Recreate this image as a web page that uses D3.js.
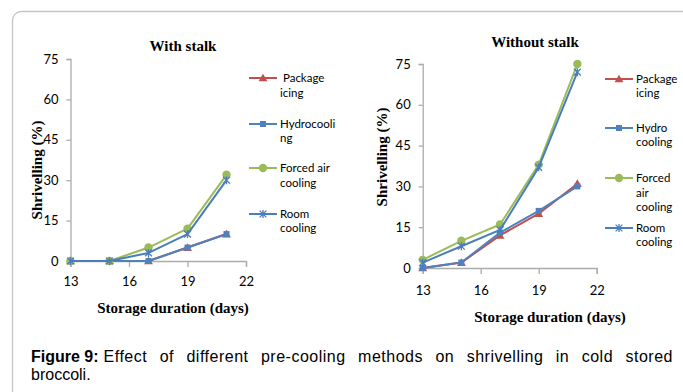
<!DOCTYPE html>
<html>
<head>
<meta charset="utf-8">
<script src="https://cdn.jsdelivr.net/npm/d3@7"></script>
<style>
  html, body { margin: 0; padding: 0; background: #fff; }
  svg { display: block; }
</style>
</head>
<body>
<svg id="fig" width="683" height="392"></svg>
<script>
// Storage days on the x axis
const days = [13, 15, 17, 19, 21];
const xTicks = [13, 16, 19, 22];
const yTicks = [0, 15, 30, 45, 60, 75];

// Shrivelling (%) with stalk
const withPackage = [0, 0, 0, 5, 10];
const withHydro   = [0, 0, 0, 5, 10];
const withForced  = [0, 0, 5, 12, 32];
const withRoom    = [0, 0, 3, 10, 30];

// Shrivelling (%) without stalk
const withoutPackage = [0, 2, 12, 20, 31];
const withoutHydro   = [0, 2, 13, 21, 30];
const withoutForced  = [3, 10, 16, 38, 75];
const withoutRoom    = [2, 8, 14, 37, 72];

const seriesStyle = [
  { color: "#C0504D", marker: "triangle" },
  { color: "#4F81BD", marker: "square" },
  { color: "#9BBB59", marker: "circle" },
  { color: "#4A7EBB", marker: "star" }
];

const leftLabels  = [[" Package", "icing"], ["Hydrocooli", "ng"], ["Forced air", "cooling"], ["Room", "cooling"]];
const rightLabels = [["Package", "icing"], ["Hydro", "cooling"], ["Forced", "air", "cooling"], ["Room", "cooling"]];

const captionLead = "Figure 9:";
const captionLine1 = "Effect of different pre-cooling methods on shrivelling in cold stored";
const captionLine2 = "broccoli.";

const svg = d3.select("#fig");

// outer rounded frame
svg.append("rect")
  .attr("x", 12.5).attr("y", 11.5)
  .attr("width", 720).attr("height", 420)
  .attr("rx", 9)
  .attr("fill", "none").attr("stroke", "#c4c4c4").attr("stroke-width", 1.3);

const tickFont = "Lato, 'Open Sans', sans-serif";
const serif = "'Liberation Serif', 'Times New Roman', serif";
const axisColor = "#ABABAB";

function drawMarker(g, type, x, y, color) {
  if (type === "triangle") {
    g.append("path")
      .attr("d", d3.symbol(d3.symbolTriangle, 34)())
      .attr("transform", `translate(${x},${y + 0.8})`)
      .attr("fill", color);
  } else if (type === "square") {
    g.append("rect")
      .attr("x", x - 3).attr("y", y - 3).attr("width", 6).attr("height", 6)
      .attr("fill", color);
  } else if (type === "circle") {
    g.append("circle").attr("cx", x).attr("cy", y).attr("r", 4.2).attr("fill", color);
  } else {
    const s = 3.4;
    g.append("path")
      .attr("d", `M${x - s},${y - s}L${x + s},${y + s}M${x - s},${y + s}L${x + s},${y - s}M${x},${y - s - 0.6}L${x},${y + s + 0.6}`)
      .attr("stroke", color).attr("stroke-width", 1.3).attr("fill", "none");
  }
}

function panel(cfg) {
  const g = svg.append("g");
  const x = d3.scaleLinear().domain([13, 22]).range(cfg.xRange);
  const y = d3.scaleLinear().domain([0, 75]).range(cfg.yRange);

  // y axis
  const ya = g.append("g")
    .attr("transform", `translate(${cfg.xRange[0]},0)`)
    .call(d3.axisLeft(y).tickValues(yTicks).tickSize(4).tickPadding(8));
  ya.select(".domain").attr("stroke", axisColor).attr("stroke-width", 1.3);
  ya.selectAll(".tick line").attr("stroke", axisColor).attr("stroke-width", 1.3);
  ya.selectAll(".tick text")
    .attr("font-family", tickFont).attr("font-size", 13).attr("fill", "#000");

  // x axis
  const xa = g.append("g")
    .attr("transform", `translate(0,${cfg.yRange[0]})`)
    .call(d3.axisBottom(x).tickValues(xTicks).tickSize(6).tickPadding(cfg.xPad));
  xa.select(".domain").attr("stroke", axisColor).attr("stroke-width", 1.3);
  xa.selectAll(".tick line").attr("stroke", axisColor).attr("stroke-width", 1.3);
  xa.selectAll(".tick text")
    .attr("font-family", tickFont).attr("font-size", 13).attr("fill", "#000");

  // titles
  g.append("text")
    .attr("x", cfg.titleX).attr("y", cfg.titleY)
    .attr("text-anchor", "middle")
    .attr("font-family", serif).attr("font-weight", "bold").attr("font-size", 15)
    .text(cfg.title);
  g.append("text")
    .attr("x", cfg.xTitleX).attr("y", cfg.xTitleY)
    .attr("text-anchor", "middle")
    .attr("font-family", serif).attr("font-weight", "bold").attr("font-size", 15)
    .text("Storage duration (days)");
  g.append("text")
    .attr("transform", `translate(${cfg.yTitleX},${cfg.yTitleY}) rotate(-90)`)
    .attr("text-anchor", "middle")
    .attr("font-family", serif).attr("font-weight", "bold").attr("font-size", 15)
    .text("Shrivelling (%)");

  // series
  const line = d3.line().x((d, i) => x(days[i])).y(d => y(d));
  cfg.series.forEach((vals, si) => {
    const st = seriesStyle[si];
    g.append("path")
      .datum(vals)
      .attr("d", line)
      .attr("fill", "none")
      .attr("stroke", st.color)
      .attr("stroke-width", 2)
      .attr("stroke-linejoin", "round");
    vals.forEach((v, i) => drawMarker(g, st.marker, x(days[i]), y(v), st.color));
  });

  // legend
  cfg.labels.forEach((lines, si) => {
    const st = seriesStyle[si];
    const ly = cfg.legendY[si];
    g.append("line")
      .attr("x1", cfg.legendX[0]).attr("x2", cfg.legendX[1])
      .attr("y1", ly).attr("y2", ly)
      .attr("stroke", st.color).attr("stroke-width", 2);
    drawMarker(g, st.marker, (cfg.legendX[0] + cfg.legendX[1]) / 2, ly, st.color);
    lines.forEach((t, li) => {
      g.append("text")
        .attr("x", cfg.legendX[1] + 3)
        .attr("y", ly + 4 + li * cfg.legendStep[si])
        .attr("font-family", tickFont).attr("font-size", 11.5)
        .attr("fill", "#000")
        .attr("xml:space", "preserve")
        .style("white-space", "pre")
        .text(t);
    });
  });
}

panel({
  xRange: [70.5, 246], yRange: [261, 59], xPad: 10,
  title: "With stalk", titleX: 183, titleY: 51,
  xTitleX: 173, xTitleY: 313,
  yTitleX: 42, yTitleY: 170,
  series: [withPackage, withHydro, withForced, withRoom],
  labels: leftLabels,
  legendX: [249, 277],
  legendY: [78, 124, 168, 214],
  legendStep: [15, 14, 15, 14]
});

panel({
  xRange: [422.7, 596.7], yRange: [268, 64], xPad: 12,
  title: "Without stalk", titleX: 535, titleY: 47,
  xTitleX: 550, xTitleY: 322,
  yTitleX: 387, yTitleY: 157,
  series: [withoutPackage, withoutHydro, withoutForced, withoutRoom],
  labels: rightLabels,
  legendX: [605, 633],
  legendY: [79, 128, 178, 228],
  legendStep: [14, 14, 14.5, 14]
});

// caption: bold lead-in, then the first line justified by widening word gaps
const capFont = "'Liberation Sans', Arial, sans-serif";
const capLeft = 31, capRight = 673, capSize = 16;
const lead = svg.append("text")
  .attr("x", capLeft).attr("y", 362)
  .attr("font-family", capFont).attr("font-size", capSize).attr("font-weight", "bold")
  .attr("fill", "#000")
  .text(captionLead);
const restX = capLeft + lead.node().getComputedTextLength() + 5;
const rest = svg.append("text")
  .attr("x", restX).attr("y", 362)
  .attr("font-family", capFont).attr("font-size", capSize).attr("fill", "#000")
  .attr("letter-spacing", 0.5)
  .text(captionLine1);
const spaces = captionLine1.split(" ").length - 1;
const extra = (capRight - restX - rest.node().getComputedTextLength()) / spaces;
if (extra > 0) rest.attr("word-spacing", extra);
else rest.attr("textLength", capRight - restX).attr("lengthAdjust", "spacingAndGlyphs");

svg.append("text")
  .attr("x", capLeft).attr("y", 380)
  .attr("font-family", capFont).attr("font-size", capSize).attr("fill", "#000")
  .text(captionLine2);
</script>
</body>
</html>
